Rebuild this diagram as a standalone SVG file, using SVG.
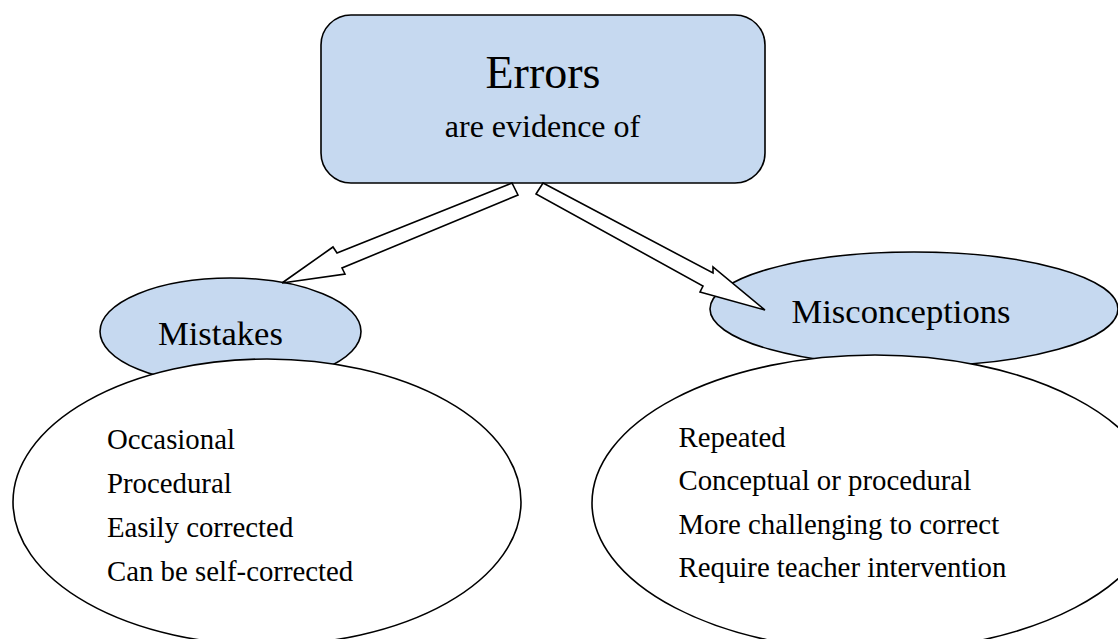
<svg xmlns="http://www.w3.org/2000/svg" width="1118" height="639" viewBox="0 0 1118 639">
<style>
.blue{fill:#C6D9F0;stroke:#000;stroke-width:1.6}
.white{fill:#fff;stroke:#000;stroke-width:1.6}
.arrow{fill:#fff;stroke:#000;stroke-width:1.6;stroke-linejoin:miter}
text{font-family:"Liberation Serif","Times New Roman",serif;fill:#000}
.title{font-size:46px;text-anchor:middle}
.sub{font-size:32px;text-anchor:middle}
.head{font-size:34.6px}
.item{font-size:28.8px}
</style>
<rect width="1118" height="639" fill="#fff"/>
<g id="errors">
<rect class="blue" x="321" y="15" width="444" height="168" rx="30" ry="30"/>
<text class="title" x="543" y="88">Errors</text>
<text class="sub" x="542.5" y="137">are evidence of</text>
</g>
<g id="mistakes">
<ellipse class="blue" cx="230.5" cy="331.5" rx="130.5" ry="53.5"/>
<text class="head" x="158" y="345">Mistakes</text>
</g>
<g id="misconceptions">
<ellipse class="blue" cx="914" cy="309" rx="204" ry="57"/>
<text class="head" x="791.5" y="323">Misconceptions</text>
</g>
<g id="mistakes-traits">
<ellipse class="white" cx="267" cy="502" rx="254" ry="143"/>
<text class="item" x="107" y="448.5">Occasional</text>
<text class="item" x="107" y="493">Procedural</text>
<text class="item" x="107" y="537">Easily corrected</text>
<text class="item" x="107" y="581">Can be self-corrected</text>
</g>
<g id="misconceptions-traits">
<ellipse class="white" cx="875" cy="503" rx="283" ry="148"/>
<text class="item" x="678.5" y="446.5">Repeated</text>
<text class="item" x="678.5" y="490">Conceptual or procedural</text>
<text class="item" x="678.5" y="533.5">More challenging to correct</text>
<text class="item" x="678.5" y="577">Require teacher intervention</text>
</g>
<g id="connectors">
<polygon class="arrow" points="512,183 337,253 333,247 282,283 345,274 342,268 518,195"/>
<polygon class="arrow" points="543,183 713,273 713,267 765,310 700,292 703,286 536,194"/>
</g>
</svg>
